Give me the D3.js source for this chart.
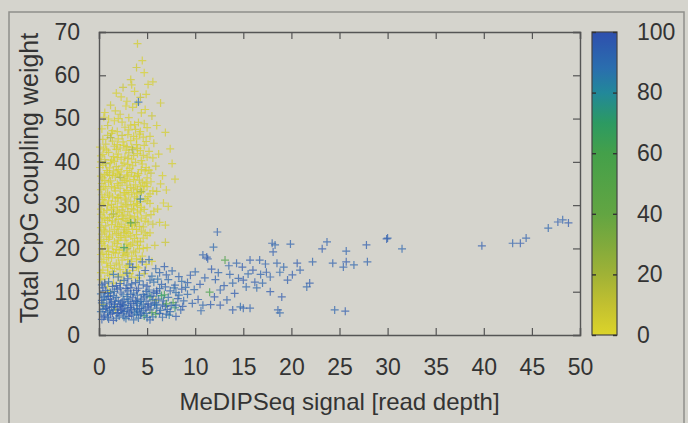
<!DOCTYPE html>
<html>
<head>
<meta charset="utf-8">
<script src="https://cdn.jsdelivr.net/npm/d3@7"></script>
<style>
  body { margin: 0; background: #d5d4cd; }
  text { font-family: "Liberation Sans", Arial, sans-serif; fill: #333; }
</style>
</head>
<body>
<div id="chart"></div>
<script>
const width = 688;
const height = 423;
const margin = { top: 32, right: 108, bottom: 88, left: 99 };

// [signal, coupling weight, colour value]
const highCoupling = [
  [4.0,67.3,3],[4.5,63.4,2],[3.9,61.8,5],[4.7,60.6,1],[3.3,59.0,4],[5.1,57.9,2],[2.5,57.2,6],[3.7,56.3,1],
  [5.6,58.5,3],[1.8,55.9,2],[4.3,54.9,8],[6.4,53.6,4],[2.9,54.0,2],[1.2,53.1,5],[3.5,52.6,3],[4.8,52.1,1],
  [0.6,51.4,2],[2.2,51.0,4],[5.5,50.6,6],[3.1,50.2,2],[1.6,49.5,1],[4.1,49.1,3],[0.9,48.4,5],[2.7,48.0,2],
  [3.8,47.5,4],[5.0,47.9,1],[6.9,46.8,3],[1.3,46.6,2],[2.4,46.1,6],[4.6,45.7,2],[0.4,45.2,3],[3.3,44.9,1],
  [5.7,44.3,4],[1.9,44.0,2],[2.9,43.5,5],[4.0,43.1,2],[0.8,42.7,1],[5.2,42.4,3],[6.2,41.8,2],[3.6,41.5,4],
  [1.5,41.2,2],[2.3,40.6,1],[4.4,40.3,3],[0.2,40.0,6],[7.6,39.6,2],[3.0,39.4,2],[5.9,39.0,5],[1.1,38.6,1],
  [2.0,38.2,3],[4.8,37.9,2],[3.4,37.5,4],[0.6,37.1,2],[6.6,36.8,1],[1.7,36.5,3],[2.6,36.1,2],[4.2,35.8,5],
  [5.4,35.4,2],[0.3,35.0,4],[3.8,34.7,1],[1.3,34.3,2],[2.2,33.9,3],[4.6,33.5,2],[6.0,33.2,6],[0.9,32.8,2],
  [3.1,32.4,1],[5.1,32.0,3],[1.9,31.6,2],[2.8,31.2,4],[4.3,30.8,10],[0.5,30.5,2],[3.6,30.1,1],[7.2,29.7,3],
  [1.5,29.4,2],[2.4,28.9,5],[5.7,28.6,2],[4.0,28.2,1],[0.2,27.9,3],[3.2,27.5,2],[1.1,27.1,4],[2.0,26.7,2],
  [4.8,26.3,1],[6.3,26.0,3],[3.7,25.6,2],[0.7,25.2,5],[2.7,24.8,2],[1.6,24.4,1],[4.4,24.0,3],[5.3,23.6,2],
  [0.3,23.3,4],[3.3,22.9,2],[2.2,22.5,1],[1.0,22.1,3],[4.0,21.7,2],[6.9,21.4,6],[2.9,21.0,2],[0.6,20.6,1],
  [5.0,20.2,3],[1.8,19.8,2],[3.6,19.4,4],[2.5,19.0,2],[0.2,18.6,1],[4.5,18.2,3],[1.3,17.8,2],[3.0,17.4,5],
  [5.5,17.0,2],[0.8,16.6,1],[2.1,16.2,3],[3.9,15.8,2],[1.6,15.4,4],[0.4,15.0,2],[2.8,14.6,1],[4.7,14.2,3],
  [1.1,13.8,2],[3.4,13.4,6],[0.6,13.0,2],[2.3,12.5,3],[1.5,12.0,2],
  [1.4,47.2,3],[3.0,46.3,1],[4.3,47.0,2],[0.7,44.1,4],[2.5,44.6,2],[3.9,45.3,1],[5.3,45.9,3],[1.8,42.9,2],
  [3.1,42.1,5],[4.7,43.8,2],[0.4,41.7,1],[2.7,41.1,3],[5.6,40.9,2],[1.2,39.8,2],[3.8,39.9,4],[4.9,38.7,1],
  [2.4,39.1,2],[0.8,38.0,3],[3.2,38.5,2],[5.4,37.4,6],[1.9,37.4,1],[4.0,36.9,2],[0.4,36.3,3],[2.9,36.7,2],
  [3.6,35.9,1],[1.2,35.6,4],[4.9,35.1,2],[2.4,35.2,3],[6.4,34.9,2],[0.7,33.9,1],[3.3,34.1,2],[1.7,33.3,3],
  [4.0,33.6,5],[5.6,33.3,2],[2.6,32.9,1],[0.3,32.4,2],[3.7,31.9,3],[1.4,31.9,2],[4.8,31.5,1],[2.3,30.5,4],
  [5.3,30.4,2],[0.9,29.9,3],[3.0,29.8,2],[4.4,29.5,1],[1.9,28.6,2],[6.1,29.1,3],[0.5,28.4,2],[3.6,28.9,4],
  [2.6,27.9,1],[4.9,27.5,2],[1.4,26.4,3],[3.0,26.2,2],[0.3,26.0,1],[5.6,25.6,5],[2.3,25.6,2],[4.2,25.1,3],
  [1.1,24.0,2],[3.5,24.4,1],[2.0,23.8,4],[5.0,23.0,2],[0.8,22.7,3],[2.8,22.6,2],[4.6,22.4,1],[1.6,21.5,2],
  [3.5,21.3,3],[0.3,21.2,2],[5.8,20.7,4],[2.3,20.3,1],[4.2,19.9,2],[1.0,19.3,3],[3.0,19.0,2],[0.5,17.5,1],
  [2.0,17.9,2],[3.9,17.6,4],[4.9,16.3,2],[1.2,16.1,3],[2.8,15.7,1],[3.5,14.9,2],[0.9,14.3,3],[2.0,13.6,2],
  [0.1,43.4,2],[1.0,42.2,3],[2.0,41.8,1],[3.4,43.3,2],[0.6,40.5,4],[1.6,40.1,2],[3.4,40.6,1],[4.6,41.5,3],
  [2.1,37.0,2],[0.1,38.7,1],[1.5,37.9,3],[3.0,37.0,2],[4.4,38.2,4],[0.5,34.3,2],[1.9,35.0,1],[2.9,34.6,3],
  [4.3,34.3,2],[1.0,31.0,1],[2.0,31.8,2],[3.3,30.9,3],[0.2,29.1,2],[1.3,29.0,1],[2.8,30.1,4],[4.0,29.9,2],
  [1.8,27.4,3],[3.3,27.0,2],[4.4,27.0,1],[0.6,26.9,2],[2.5,26.9,3],[1.9,25.0,2],[3.1,25.2,1],[0.5,24.3,3],
  [1.4,23.1,2],[2.6,23.6,4],[3.9,23.2,2],[0.2,22.0,1],[2.0,21.9,3],[3.1,20.5,2],[1.4,20.5,1],[0.8,18.6,2],
  [2.6,18.4,3],[1.7,18.9,2],[3.4,18.2,1],[0.3,19.9,2],[4.0,20.7,3],[2.9,23.9,2],[1.9,29.6,1],[0.4,31.3,3],
  [2.7,32.8,2],[1.1,36.9,4],[3.9,32.6,1],[5.0,34.3,2],[2.2,43.2,3],[3.7,48.6,2],[2.0,50.0,1],[4.4,51.3,3],
  [6.0,48.4,2],[7.9,36.0,3],[7.0,33.5,2],[6.7,30.5,1],[6.9,25.4,3],[7.4,43.0,2],
  [0.5,50.3,2],[1.7,51.8,3],[2.8,52.9,1],[3.9,53.4,4],[2.3,55.0,2],[3.4,57.8,3],[4.9,55.6,2],[1.0,49.9,1],
  [2.4,49.2,3],[3.3,48.5,2],[4.7,48.8,4],[0.3,47.6,1],[1.9,47.0,2],[3.1,47.4,3],[4.2,46.4,2],[0.9,46.1,5],
  [2.0,45.3,1],[3.6,45.9,2],[4.9,44.7,3],[1.4,44.8,2],[2.6,43.8,1],[3.9,44.0,4],[0.5,43.0,2],[1.6,43.6,3],
  [4.3,42.6,2],[2.8,42.7,1],[0.2,41.4,3],[1.9,41.0,2],[3.0,40.8,4],[4.0,41.9,1],[5.0,41.1,2],[1.3,40.4,3],
  [2.6,39.7,2],[0.4,39.2,1],[3.5,39.1,3],[4.5,39.5,2],[1.8,38.9,4],[5.2,38.1,2],[2.9,38.0,1],[0.9,37.5,3],
  [4.1,37.3,2],[2.3,37.7,1],[3.7,36.6,3],[1.4,36.9,2],[0.2,36.7,4],[5.0,36.3,1],[2.7,35.7,2],[4.5,35.3,3],
  [1.0,35.3,2],[3.2,35.5,1],[0.6,35.7,3],[2.0,34.6,2],[3.6,33.9,4],[4.7,34.6,2],[1.6,34.0,1],[0.2,33.6,3],
  [2.9,33.4,2],[4.3,32.9,1],[5.3,32.6,3],[1.1,32.3,2],[2.2,32.3,4],[3.4,32.9,2],[0.6,31.8,1],[4.0,31.5,3],
  [1.7,30.9,2],[2.7,31.6,1],[3.9,30.4,2],[5.0,31.0,4],[0.3,30.2,2],[1.3,30.2,3],[2.5,29.6,1],[3.4,29.2,2],
  [4.7,29.0,3],[0.8,28.8,2],[2.1,28.3,1],[3.0,28.5,4],[4.3,28.6,2],[5.4,27.8,3],[1.3,27.8,2],[0.4,27.2,1],
  [2.4,27.5,3],[3.7,27.3,2],[4.0,26.6,1],[1.7,26.1,4],[2.8,26.5,2],[0.9,26.5,3],[5.1,26.1,2],[3.4,25.4,1],
  [2.1,25.1,2],[4.6,25.0,3],[0.2,24.8,2],[1.3,25.5,1],[2.6,24.3,4],[3.9,24.4,2],[1.8,23.4,3],[0.6,23.8,2],
  [3.1,23.5,1],[4.8,23.6,3],[2.3,23.0,2],[1.1,22.6,1],[3.7,22.3,2],[4.3,21.5,4],[0.5,21.6,2],[1.9,21.1,3],
  [2.7,21.9,1],[3.3,20.8,2],[0.9,20.1,3],[2.1,19.6,2],[4.6,20.0,1],[1.5,19.1,2],[3.8,19.0,3],[0.4,18.9,2],
  [2.8,18.7,4],[1.0,17.9,1],[2.4,17.3,2],[3.4,17.0,3],[4.3,17.4,2],[0.3,16.9,1],[1.8,16.6,3],[3.0,16.1,2],
  [4.1,15.5,1],[0.9,15.7,2],[2.2,15.1,3],[1.4,14.7,2],[3.2,14.2,4],[0.2,14.4,2],[2.5,13.9,1],[4.0,13.2,3],
  [1.2,45.6,16],[3.5,42.8,18],[2.2,36.4,15],[4.4,33.1,20],[1.5,28.0,17],[3.8,26.0,19],[2.9,19.9,16],[0.7,39.6,15],
  [0.4,7.0,5],[1.1,10.0,3],[0.2,12.8,4],[5.9,8.0,10],[1.7,6.0,8],[0.9,11.2,6]
];

const lowCluster = [
  [0.3,3.6,95],[0.9,4.1,90],[1.5,3.4,98],[2.1,4.4,92],[2.8,3.8,88],[3.4,4.6,96],[4.1,3.9,90],[4.7,4.4,70],
  [5.3,3.5,94],[5.9,4.8,62],[6.6,4.1,91],[7.3,4.6,85],[1.2,4.8,97],[2.5,4.9,93],[3.9,4.8,89],[8.0,4.3,95],
  [0.2,5.4,90],[0.7,6.1,97],[1.1,5.6,92],[1.6,6.6,88],[2.0,5.2,95],[2.4,6.0,99],[2.9,5.5,91],[3.3,6.4,94],
  [3.7,5.3,87],[4.2,6.1,96],[4.6,5.6,90],[5.1,6.5,93],[5.5,5.2,60],[6.0,6.2,92],[6.4,5.7,89],[6.9,6.6,95],
  [7.4,5.4,91],[7.9,6.3,72],[8.5,5.8,94],[0.5,6.8,88],[1.4,5.1,96],[2.7,6.8,90],[3.6,6.9,93],[4.9,5.0,91],
  [5.8,6.9,87],[1.9,6.3,98],[3.0,6.2,95],[4.4,6.7,92],[0.9,5.3,90],[7.1,5.9,94],
  [0.3,7.4,92],[0.8,8.2,88],[1.3,7.6,95],[1.8,8.7,90],[2.2,7.2,97],[2.6,8.1,93],[3.1,7.7,91],[3.5,8.6,96],
  [4.0,7.3,89],[4.4,8.3,94],[4.9,7.8,92],[5.3,8.8,68],[5.8,7.4,95],[6.2,8.3,91],[6.7,7.9,93],[7.2,8.7,90],
  [7.7,7.5,58],[8.2,8.4,94],[8.8,7.9,92],[1.0,8.9,96],[2.9,8.9,90],[4.7,8.8,93],[6.0,7.1,88],[1.6,7.1,97],
  [3.8,8.0,94],[5.6,8.1,91],[0.5,8.6,89],[2.4,7.6,95],
  [0.2,9.5,90],[0.7,10.3,94],[1.2,9.8,91],[1.9,10.6,96],[2.5,9.3,88],[3.0,10.2,93],[3.6,9.7,90],[4.1,10.8,95],
  [4.6,9.4,92],[5.2,10.4,89],[5.7,9.9,94],[6.3,10.7,91],[6.8,9.3,66],[7.4,10.2,93],[8.0,9.8,90],[8.6,10.6,95],
  [1.5,9.1,92],[3.3,10.9,96],[5.0,9.2,90],[6.0,9.6,93],[7.8,10.9,88],[2.2,10.9,94],[9.2,9.4,91],[0.4,10.9,95],
  [0.3,11.6,92],[1.0,12.3,88],[1.8,11.4,95],[2.6,12.6,91],[3.4,11.8,93],[4.2,12.5,90],[5.0,11.3,96],[5.7,12.2,89],
  [6.5,11.7,94],[7.2,12.8,91],[7.9,11.5,93],[8.6,12.4,90],[2.2,11.9,95],[4.6,11.6,92],[6.1,12.9,88],[3.0,13.0,94],
  [2.9,14.3,91],[3.5,15.6,93],[4.2,13.8,90],[4.8,14.9,95],[5.5,13.6,89],[6.3,14.4,92],[7.0,13.9,94],[3.2,16.4,90],
  [4.5,16.9,93],[5.9,15.3,91],[6.8,15.8,95],[1.5,14.0,88],[7.6,14.8,92],[8.3,13.5,94],[5.2,17.4,90],
  [0.6,4.6,94],[1.8,3.9,91],[3.1,4.3,95],[4.4,5.1,93],[5.6,4.2,90],[6.3,5.0,94],[2.3,5.7,97],[3.9,6.0,92],
  [1.3,6.4,95],[0.4,5.9,91],[2.0,7.9,93],[3.3,7.3,96],[4.6,7.1,90],[1.1,7.2,94],[0.6,9.0,92],[2.8,10.7,95],
  [4.0,9.2,91],[5.4,6.9,93],[7.0,7.2,60],[8.0,6.9,94],
  [0.5,4.2,96],[1.0,3.7,93],[1.9,5.0,95],[2.6,4.1,92],[3.2,5.1,97],[3.6,3.5,91],[4.3,4.6,94],[5.0,4.0,90],
  [0.8,6.5,95],[1.5,5.8,92],[2.2,6.6,96],[2.6,5.4,93],[3.4,5.8,95],[4.0,5.5,91],[4.8,6.2,94],[5.3,5.8,97],
  [0.3,8.0,93],[1.2,8.3,96],[1.7,7.8,92],[2.5,7.0,95],[3.0,8.3,91],[3.9,7.7,94],[4.3,7.7,90],[5.1,7.2,96],
  [0.9,9.6,94],[1.6,10.1,91],[2.3,9.7,95],[3.3,9.4,93],[3.9,10.3,96],[4.9,10.1,92],[5.5,9.0,94],[6.5,9.1,70],
  [1.4,11.2,95],[2.9,11.5,92],[3.8,12.1,94],[5.3,12.7,91],[6.9,11.1,93],[0.6,12.0,96],[2.0,13.4,92],[6.0,10.2,95],
  [7.5,6.8,93],[8.3,9.2,90],[6.6,6.9,94],[7.0,4.8,92],[8.7,6.6,95],[9.0,11.0,91]
];

const sparseTail = [
  [9.5,13.8,95],[9.9,10.5,92],[10.3,8.2,96],[10.8,18.5,93],[11.3,17.6,95],[11.9,20.3,91],[12.3,23.8,94],[10.8,6.9,92],
  [11.5,9.9,60],[11.2,18.0,95],[12.6,10.4,93],[12.6,6.9,96],[13.1,17.3,55],[13.3,8.1,94],[13.9,12.0,92],[13.9,5.8,95],
  [14.3,16.6,93],[14.7,6.5,91],[15.0,12.7,96],[15.0,6.2,94],[15.3,11.1,92],[15.7,17.3,95],[15.7,6.2,93],[16.0,15.0,96],
  [16.4,10.9,91],[16.7,17.3,94],[17.0,12.0,92],[17.4,14.5,95],[17.8,13.4,93],[17.8,10.0,96],[18.0,21.2,94],[18.3,20.8,92],
  [18.1,19.2,95],[18.5,16.6,93],[18.8,14.5,91],[19.0,8.8,96],[18.6,5.8,94],[18.8,5.1,92],[19.6,12.7,95],[19.9,21.0,93],
  [20.6,16.6,96],[20.9,15.0,94],[21.6,11.1,92],[21.9,12.0,95],[22.2,16.9,93],[23.2,19.9,96],[24.3,16.6,94],[24.5,5.8,92],
  [25.6,5.5,95],[25.7,19.4,93],[25.7,16.9,96],[25.4,15.7,94],[26.5,16.2,92],[27.8,20.8,95],[27.9,16.9,93],[29.9,22.2,96],
  [30.0,22.4,94],[31.5,19.9,92],[39.8,20.6,95],[43.0,21.2,93],[43.8,21.2,96],[44.4,22.4,94],[46.7,24.7,92],[47.7,26.1,95],
  [48.2,26.6,93],[48.8,25.9,96],
  [9.2,12.1,94],[10.0,14.6,92],[10.5,11.7,95],[11.0,13.2,93],[11.7,15.2,96],[12.1,12.8,94],[12.4,14.4,92],[13.0,11.4,95],
  [13.6,14.0,93],[14.1,9.6,96],[14.5,13.1,94],[15.5,14.1,92],[16.2,12.2,95],[16.8,14.0,93],[12.0,8.8,96],[9.7,7.3,94],
  [10.6,5.6,92],[11.6,7.0,95],[13.5,16.0,93],[14.9,15.7,96],[17.3,16.4,94],[19.2,15.7,92],[20.1,13.9,95],[23.7,21.5,93],
  [4.1,53.8,90],[4.3,31.4,85],[2.6,20.2,70],[3.3,25.9,60]
];

const xTicks = [0, 5, 10, 15, 20, 25, 30, 35, 40, 45, 50];
const yTicks = [0, 10, 20, 30, 40, 50, 60, 70];
const cbTicks = [0, 20, 40, 60, 80, 100];
const paletteStops = [0, 10, 20, 30, 40, 60, 70, 80, 88, 100];
const paletteColors = ["#dcd42a", "#c2c030", "#a0b236", "#80aa3c", "#62a542", "#44a04a", "#2c9a62", "#22889a", "#2a6eae", "#2e4fae"];

const plotW = width - margin.left - margin.right;
const plotH = height - margin.top - margin.bottom;

const svg = d3.select("#chart")
  .append("svg")
  .attr("width", width)
  .attr("height", height);

// outer frame of the photographed figure
svg.append("rect")
  .attr("x", 9).attr("y", 12)
  .attr("width", 675).attr("height", 430)
  .attr("fill", "none")
  .attr("stroke", "#8f8f8b")
  .attr("stroke-width", 1.5);

const x = d3.scaleLinear().domain([0, 50]).range([0, plotW]);
const y = d3.scaleLinear().domain([0, 70]).range([plotH, 0]);
const color = d3.scaleLinear().domain(paletteStops).range(paletteColors);

const g = svg.append("g")
  .attr("transform", "translate(" + margin.left + "," + margin.top + ")");

//points drawn as gnuplot style "+"
const plus = "M-4,0H4M0,-4V4";
const allPoints = highCoupling.concat(lowCluster, sparseTail);
g.append("g")
  .selectAll("path")
  .data(allPoints)
  .enter()
  .append("path")
  .attr("d", plus)
  .attr("transform", (d) => "translate(" + x(d[0]) + "," + y(d[1]) + ")")
  .attr("stroke", (d) => color(d[2]))
  .attr("stroke-width", 1.2)
  .attr("stroke-opacity", 0.72);

//axes with inward ticks
const axisB = g.append("g")
  .attr("transform", "translate(0," + plotH + ")")
  .call(d3.axisBottom(x).tickValues(xTicks).tickSize(-7).tickPadding(24));
const axisL = g.append("g")
  .call(d3.axisLeft(y).tickValues(yTicks).tickSize(-7).tickPadding(19));
const axisT = g.append("g")
  .call(d3.axisTop(x).tickValues(xTicks).tickSize(-7).tickFormat(""));
const axisR = g.append("g")
  .attr("transform", "translate(" + plotW + ",0)")
  .call(d3.axisRight(y).tickValues(yTicks).tickSize(-7).tickFormat(""));

[axisB, axisL, axisT, axisR].forEach((a) => {
  a.select(".domain").attr("stroke", "#555").attr("stroke-width", 1.4);
  a.selectAll(".tick line").attr("stroke", "#555").attr("stroke-width", 1.2);
  a.selectAll("text").style("font-size", "23px").attr("fill", "#333");
});

//colour bar
const cbX = 493;
const cbW = 25;
const cb = d3.scaleLinear().domain([0, 100]).range([plotH, 0]);
const grad = svg.append("defs").append("linearGradient")
  .attr("id", "cbgrad")
  .attr("x1", 0).attr("y1", 1).attr("x2", 0).attr("y2", 0);
grad.selectAll("stop")
  .data(paletteStops)
  .enter()
  .append("stop")
  .attr("offset", (d) => d / 100)
  .attr("stop-color", (d) => color(d));

g.append("rect")
  .attr("x", cbX).attr("y", 0)
  .attr("width", cbW).attr("height", plotH)
  .attr("fill", "url(#cbgrad)")
  .attr("stroke", "#444")
  .attr("stroke-width", 1.2);

const cbRight = g.append("g")
  .attr("transform", "translate(" + (cbX + cbW) + ",0)")
  .call(d3.axisRight(cb).tickValues(cbTicks).tickSize(-4).tickPadding(20));
const cbLeft = g.append("g")
  .attr("transform", "translate(" + cbX + ",0)")
  .call(d3.axisLeft(cb).tickValues(cbTicks).tickSize(-4).tickFormat(""));
[cbRight, cbLeft].forEach((a) => {
  a.select(".domain").remove();
  a.selectAll(".tick line").attr("stroke", "#333").attr("stroke-width", 1.4);
  a.selectAll("text").style("font-size", "23px").attr("fill", "#333");
});

//axis titles
svg.append("text")
  .attr("x", margin.left + plotW / 2)
  .attr("y", 410)
  .attr("text-anchor", "middle")
  .style("font-size", "24px")
  .text("MeDIPSeq signal [read depth]");

svg.append("text")
  .attr("transform", "translate(38,178) rotate(-90)")
  .attr("text-anchor", "middle")
  .style("font-size", "25px")
  .text("Total CpG coupling weight");
</script>
</body>
</html>
